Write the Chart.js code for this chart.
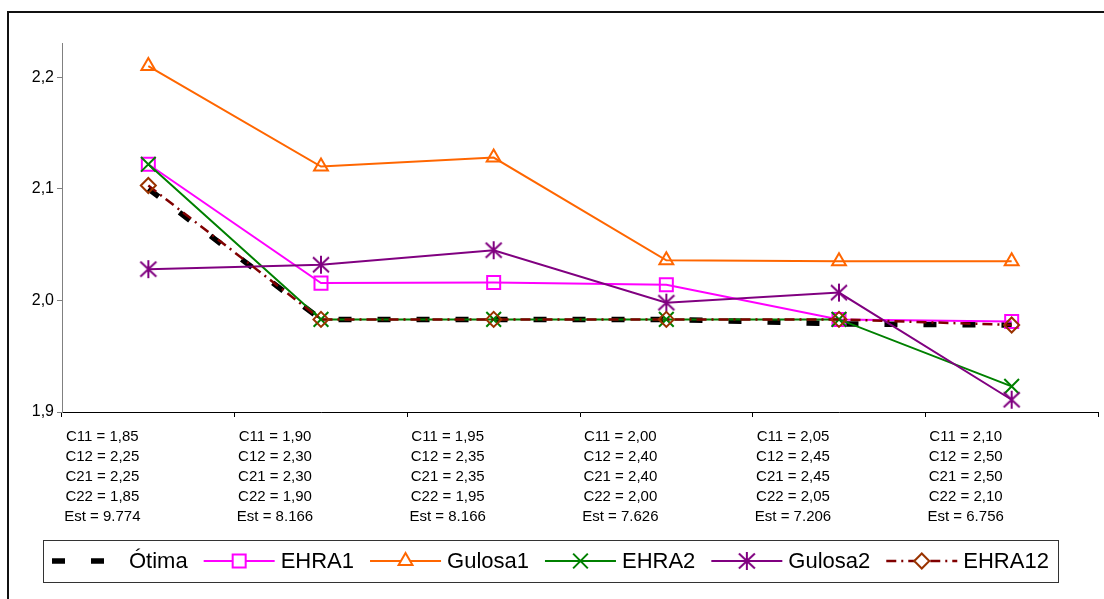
<!DOCTYPE html>
<html>
<head>
<meta charset="utf-8">
<script src="https://cdn.jsdelivr.net/npm/chart.js@4.4.1/dist/chart.umd.min.js"></script>
<style>
  html, body { margin: 0; padding: 0; background: #fff; }
  #wrap { width: 1104px; height: 599px; position: relative; }
</style>
</head>
<body>
<div id="wrap"><canvas id="c" width="1104" height="599"></canvas></div>
<script>
// Cost parameters of each scenario (category labels)
const c11 = ['1,85', '1,90', '1,95', '2,00', '2,05', '2,10'];
const c12 = ['2,25', '2,30', '2,35', '2,40', '2,45', '2,50'];
const c21 = ['2,25', '2,30', '2,35', '2,40', '2,45', '2,50'];
const c22 = ['1,85', '1,90', '1,95', '2,00', '2,05', '2,10'];
const est = ['9.774', '8.166', '8.166', '7.626', '7.206', '6.756'];

// Y axis tick values
const yTicks = [1.9, 2.0, 2.1, 2.2];

// Series values
const otima   = [2.100, 1.983, 1.983, 1.983, 1.979, 1.978];
const ehra1   = [2.122, 2.0155, 2.016, 2.014, 1.983, 1.981];
const gulosa1 = [2.210, 2.120, 2.128, 2.036, 2.035, 2.035];
const ehra2   = [2.122, 1.983, 1.983, 1.983, 1.983, 1.923];
const gulosa2 = [2.028, 2.032, 2.045, 1.998, 2.007, 1.911];
const ehra12  = [2.103, 1.983, 1.983, 1.983, 1.983, 1.978];

const FONT = '"Liberation Sans", Arial, sans-serif';

const labels = c11.map((v, i) => [
  'C11 = ' + v,
  'C12 = ' + c12[i],
  'C21 = ' + c21[i],
  'C22 = ' + c22[i],
  'Est = ' + est[i]
]);

// Asterisk marker: an X crossed by a vertical bar
function makeStar(color) {
  const cv = document.createElement('canvas');
  cv.width = 20; cv.height = 20;
  const g = cv.getContext('2d');
  g.strokeStyle = color;
  g.lineWidth = 2;
  g.beginPath();
  g.moveTo(10, 1); g.lineTo(10, 19);
  g.moveTo(2, 2.5); g.lineTo(18, 17.5);
  g.moveTo(18, 2.5); g.lineTo(2, 17.5);
  g.stroke();
  return cv;
}
const starImg = makeStar('#800080');
const NONE = 'rgba(0,0,0,0)';

const datasets = [
  { label: 'Ótima', data: otima, borderColor: '#000000', borderWidth: 5.5,
    borderDash: [13, 26], pointRadius: 0, order: 6 },
  { label: 'EHRA1', data: ehra1, borderColor: '#FF00FF', borderWidth: 2,
    pointStyle: 'rect', pointRadius: 9.2, pointBorderColor: '#FF00FF',
    pointBackgroundColor: NONE, pointBorderWidth: 2, order: 5 },
  { label: 'Gulosa1', data: gulosa1, borderColor: '#FF6600', borderWidth: 2,
    pointStyle: 'triangle', pointRadius: 8, pointBorderColor: '#FF6600',
    pointBackgroundColor: NONE, pointBorderWidth: 2, order: 4 },
  { label: 'EHRA2', data: ehra2, borderColor: '#008000', borderWidth: 2,
    pointStyle: 'crossRot', pointRadius: 10.4, pointBorderColor: '#008000',
    pointBackgroundColor: NONE, pointBorderWidth: 2, order: 3 },
  { label: 'Gulosa2', data: gulosa2, borderColor: '#800080', borderWidth: 2,
    pointStyle: starImg, pointRadius: 9, pointBorderColor: '#800080',
    pointBackgroundColor: NONE, pointBorderWidth: 2, order: 2 },
  { label: 'EHRA12', data: ehra12, borderColor: '#800000', borderWidth: 2.5,
    borderDash: [10, 5, 2, 5], pointStyle: 'rectRot', pointRadius: 7.5,
    pointBorderColor: '#993300', pointBackgroundColor: NONE,
    pointBorderWidth: 2, order: 1 }
];
datasets.forEach(d => { d.fill = false; d.tension = 0; d.backgroundColor = NONE; });

// Frame around the whole chart
const framePlugin = {
  id: 'frame',
  beforeDraw(chart) {
    const ctx = chart.ctx;
    ctx.save();
    ctx.fillStyle = '#ffffff';
    ctx.fillRect(0, 0, chart.width, chart.height);
    ctx.restore();
  },
  afterDraw(chart) {
    const ctx = chart.ctx;
    ctx.save();
    ctx.strokeStyle = '#111111';
    ctx.lineWidth = 2;
    ctx.beginPath();
    ctx.moveTo(8, chart.height);
    ctx.lineTo(8, 12);
    ctx.lineTo(chart.width, 12);
    ctx.stroke();
    ctx.restore();
  }
};

// Legend: line sample with marker, then the series name
const legendPlugin = {
  id: 'lineLegend',
  afterDraw(chart) {
    const ctx = chart.ctx;
    const box = { x: 43, y: 540, w: 1015, h: 42 };
    const cy = box.y + box.h / 2;
    ctx.save();
    ctx.fillStyle = '#ffffff';
    ctx.fillRect(box.x, box.y, box.w, box.h);
    ctx.strokeStyle = '#333333';
    ctx.lineWidth = 1;
    ctx.strokeRect(box.x + 0.5, box.y + 0.5, box.w, box.h);
    ctx.font = '22px ' + FONT;
    ctx.textBaseline = 'middle';
    ctx.textAlign = 'left';
    let x = 52;
    const lineLen = 71;
    datasets.forEach(ds => {
      ctx.save();
      ctx.strokeStyle = ds.borderColor;
      ctx.lineWidth = ds.borderWidth;
      ctx.setLineDash(ds.borderDash || []);
      ctx.beginPath();
      ctx.moveTo(x, cy);
      ctx.lineTo(x + lineLen, cy);
      ctx.stroke();
      ctx.restore();
      if (ds.pointRadius > 0) {
        const mx = x + lineLen / 2;
        if (ds.pointStyle instanceof HTMLCanvasElement) {
          const img = ds.pointStyle;
          ctx.drawImage(img, mx - img.width / 2, cy - img.height / 2);
        } else {
          ctx.save();
          ctx.fillStyle = '#ffffff';
          ctx.strokeStyle = ds.pointBorderColor;
          ctx.lineWidth = ds.pointBorderWidth;
          ctx.setLineDash([]);
          Chart.helpers.drawPoint(ctx, {
            pointStyle: ds.pointStyle, rotation: 0,
            radius: ds.pointRadius, borderWidth: ds.pointBorderWidth
          }, mx, cy);
          ctx.restore();
        }
      }
      ctx.fillStyle = '#000000';
      ctx.fillText(ds.label, x + lineLen + 6, cy + 1);
      x += lineLen + 6 + ctx.measureText(ds.label).width + 16;
    });
    ctx.restore();
  }
};

new Chart(document.getElementById('c'), {
  type: 'line',
  data: { labels, datasets },
  options: {
    responsive: false,
    animation: false,
    devicePixelRatio: 1,
    layout: { autoPadding: false, padding: { left: 10, right: 6, top: 43, bottom: 57 } },
    plugins: { legend: { display: false }, tooltip: { enabled: false } },
    elements: { line: { borderCapStyle: 'butt' } },
    scales: {
      x: {
        type: 'category',
        offset: true,
        grid: { display: true, offset: true, drawOnChartArea: false,
                drawTicks: true, tickLength: 5, color: '#000000', lineWidth: 1 },
        border: { display: true, color: '#000000', width: 1 },
        ticks: {
          autoSkip: false, maxRotation: 0, minRotation: 0,
          padding: 10, labelOffset: -46, color: '#000000',
          font: { family: FONT, size: 15, lineHeight: 1.333 }
        },
        afterFit(scale) {
          scale.height = 130;
          scale.paddingLeft = 0;
          scale.paddingRight = 0;
        }
      },
      y: {
        type: 'linear',
        min: 1.9,
        max: 2.2307,
        afterBuildTicks(scale) { scale.ticks = yTicks.map(v => ({ value: v })); },
        grid: { display: true, drawOnChartArea: false, drawTicks: true,
                tickLength: 5, color: '#808080', lineWidth: 1 },
        border: { display: true, color: '#808080', width: 1 },
        ticks: {
          padding: 3, color: '#000000',
          font: { family: FONT, size: 16 },
          callback: v => v.toFixed(1).replace('.', ',')
        },
        afterFit(scale) { scale.width = 52; }
      }
    }
  },
  plugins: [framePlugin, legendPlugin]
});
</script>
</body>
</html>
